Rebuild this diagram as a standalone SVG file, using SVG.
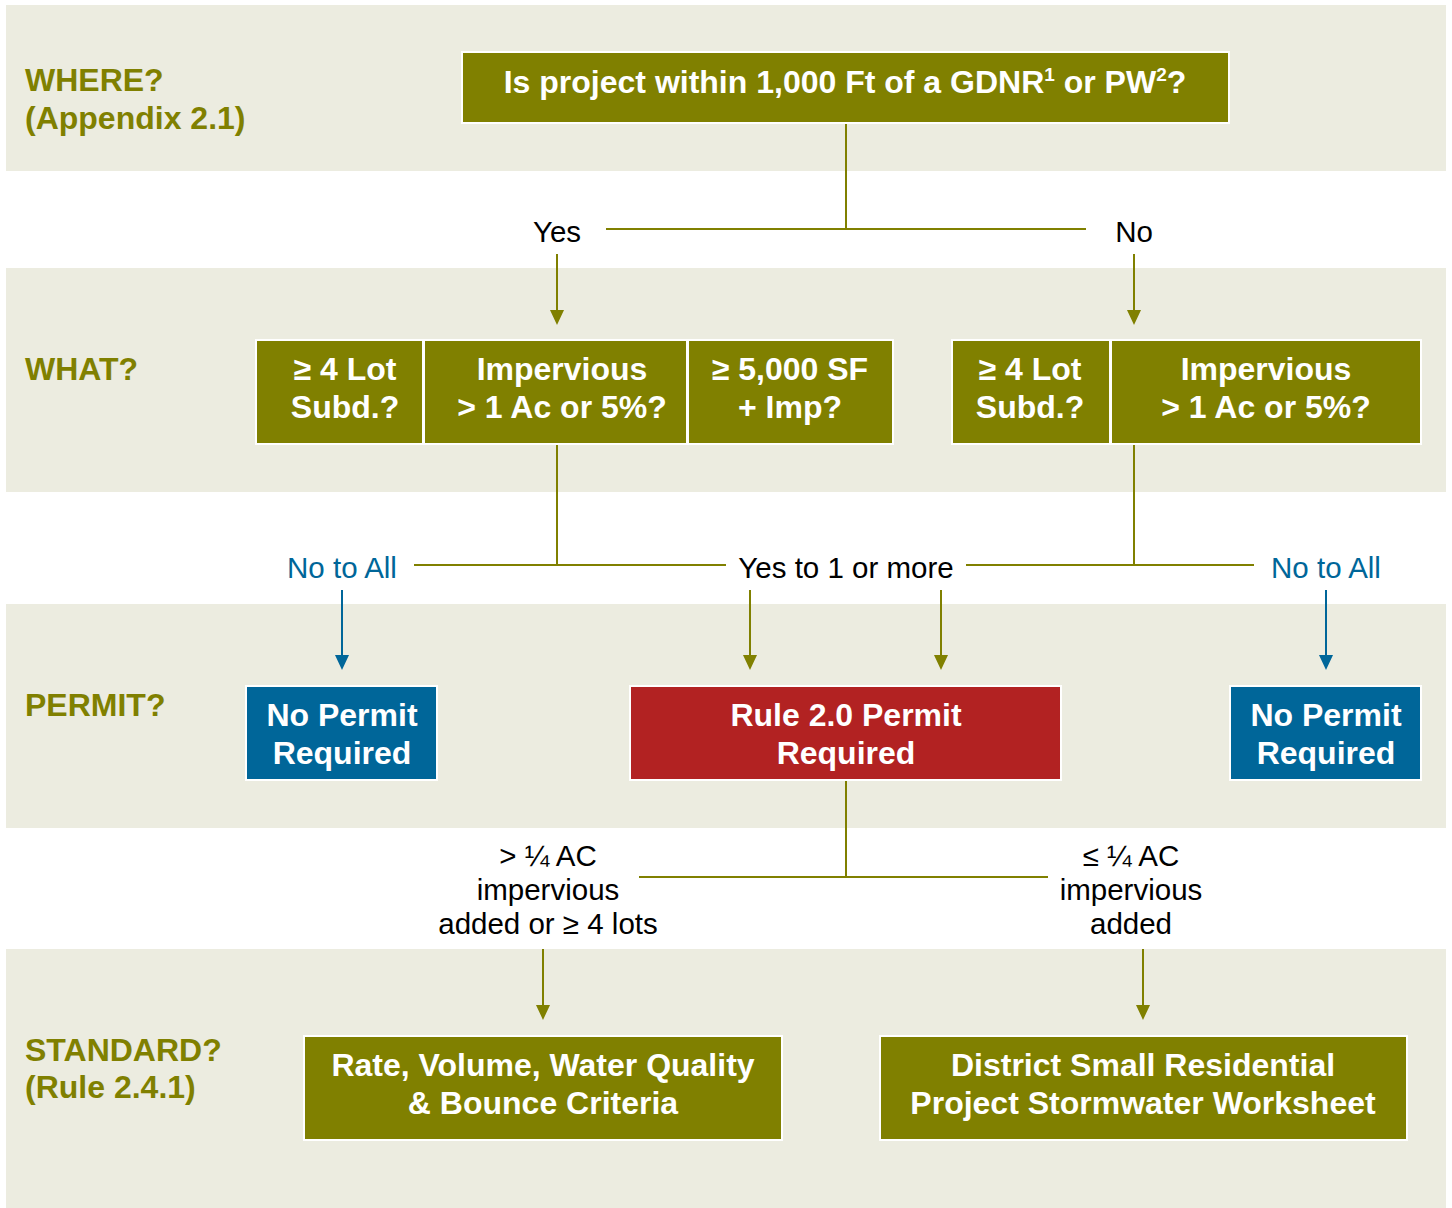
<svg xmlns="http://www.w3.org/2000/svg" width="1452" height="1208" viewBox="0 0 1452 1208">
<style>
.band{fill:#ECECE0}
.hdr{font-family:"Liberation Sans",Arial,sans-serif;font-weight:bold;font-size:32px;fill:#808000}
.box{stroke:#ffffff;stroke-width:2}
.ol{fill:#808000}
.bl{fill:#006699}
.rd{fill:#B22222}
.bt{font-family:"Liberation Sans",Arial,sans-serif;font-weight:bold;font-size:32px;fill:#ffffff;text-anchor:middle}
.lb{font-family:"Liberation Sans",Arial,sans-serif;font-size:29.5px;fill:#000000;text-anchor:middle}
.lbb{font-family:"Liberation Sans",Arial,sans-serif;font-size:29.5px;fill:#006699;text-anchor:middle}
.c{stroke:#808000;stroke-width:2;fill:none}
.cb{stroke:#006699;stroke-width:2;fill:none}
</style>
<rect width="1452" height="1208" fill="#ffffff"/>
<g id="bands">
<rect class="band" x="6" y="5" width="1440" height="166"/>
<rect class="band" x="6" y="268" width="1440" height="224"/>
<rect class="band" x="6" y="604" width="1440" height="224"/>
<rect class="band" x="6" y="949" width="1440" height="259"/>
</g>
<g id="headers">
<text class="hdr" x="25" y="91">WHERE?</text>
<text class="hdr" x="25" y="129">(Appendix 2.1)</text>
<text class="hdr" x="25" y="380">WHAT?</text>
<text class="hdr" x="25" y="716">PERMIT?</text>
<text class="hdr" x="25" y="1061">STANDARD?</text>
<text class="hdr" x="25" y="1098">(Rule 2.4.1)</text>
</g>
<g id="connectors">
<path class="c" d="M846,123 V229 M606,229 H1086 M557,565 V444 M414,565 H726 M1134,444 V565 M966,565 H1254 M846,780 V877 M639,877 H1048"/>
<line class="c" x1="557" y1="254" x2="557" y2="312"/>
<path d="M550,310 L564,310 L557,325 Z" fill="#808000"/>
<line class="c" x1="1134" y1="254" x2="1134" y2="312"/>
<path d="M1127,310 L1141,310 L1134,325 Z" fill="#808000"/>
<line class="cb" x1="342" y1="590" x2="342" y2="657"/>
<path d="M335,655 L349,655 L342,670 Z" fill="#006699"/>
<line class="c" x1="750" y1="590" x2="750" y2="657"/>
<path d="M743,655 L757,655 L750,670 Z" fill="#808000"/>
<line class="c" x1="941" y1="590" x2="941" y2="657"/>
<path d="M934,655 L948,655 L941,670 Z" fill="#808000"/>
<line class="cb" x1="1326" y1="590" x2="1326" y2="657"/>
<path d="M1319,655 L1333,655 L1326,670 Z" fill="#006699"/>
<line class="c" x1="543" y1="949" x2="543" y2="1007"/>
<path d="M536,1005 L550,1005 L543,1020 Z" fill="#808000"/>
<line class="c" x1="1143" y1="949" x2="1143" y2="1007"/>
<path d="M1136,1005 L1150,1005 L1143,1020 Z" fill="#808000"/>
<text class="lb" x="557" y="242">Yes</text>
<text class="lb" x="1134" y="242">No</text>
<text class="lbb" x="342" y="578">No to All</text>
<text class="lb" x="846" y="578">Yes to 1 or more</text>
<text class="lbb" x="1326" y="578">No to All</text>
<text class="lb" x="548" y="866">&gt; ¼ AC</text>
<text class="lb" x="548" y="900">impervious</text>
<text class="lb" x="548" y="934">added or ≥ 4 lots</text>
<text class="lb" x="1131" y="866">≤ ¼ AC</text>
<text class="lb" x="1131" y="900">impervious</text>
<text class="lb" x="1131" y="934">added</text>
</g>
<g id="q-where">
<rect class="box ol" x="462" y="52" width="767" height="71"/>
<text class="bt" x="845" y="93">Is project within 1,000 Ft of a GDNR<tspan font-size="19" dy="-12">1</tspan><tspan dy="12"> or PW</tspan><tspan font-size="19" dy="-12">2</tspan><tspan dy="12">?</tspan></text>
</g>
<g id="q-lot-yes">
<rect class="box ol" x="256" y="340" width="167" height="104"/>
<text class="bt" x="345" y="380">≥ 4 Lot</text>
<text class="bt" x="345" y="418">Subd.?</text>
</g>
<g id="q-imp-yes">
<rect class="box ol" x="424" y="340" width="263" height="104"/>
<text class="bt" x="562" y="380">Impervious</text>
<text class="bt" x="562" y="418">&gt; 1 Ac or 5%?</text>
</g>
<g id="q-sf-yes">
<rect class="box ol" x="688" y="340" width="205" height="104"/>
<text class="bt" x="790" y="380">≥ 5,000 SF</text>
<text class="bt" x="790" y="418">+ Imp?</text>
</g>
<g id="q-lot-no">
<rect class="box ol" x="952" y="340" width="158" height="104"/>
<text class="bt" x="1030" y="380">≥ 4 Lot</text>
<text class="bt" x="1030" y="418">Subd.?</text>
</g>
<g id="q-imp-no">
<rect class="box ol" x="1111" y="340" width="310" height="104"/>
<text class="bt" x="1266" y="380">Impervious</text>
<text class="bt" x="1266" y="418">&gt; 1 Ac or 5%?</text>
</g>
<g id="no-permit-left">
<rect class="box bl" x="246" y="686" width="191" height="94"/>
<text class="bt" x="342" y="726">No Permit</text>
<text class="bt" x="342" y="764">Required</text>
</g>
<g id="permit-required">
<rect class="box rd" x="630" y="686" width="431" height="94"/>
<text class="bt" x="846" y="726">Rule 2.0 Permit</text>
<text class="bt" x="846" y="764">Required</text>
</g>
<g id="no-permit-right">
<rect class="box bl" x="1230" y="686" width="191" height="94"/>
<text class="bt" x="1326" y="726">No Permit</text>
<text class="bt" x="1326" y="764">Required</text>
</g>
<g id="std-full">
<rect class="box ol" x="304" y="1036" width="478" height="104"/>
<text class="bt" x="543" y="1076">Rate, Volume, Water Quality</text>
<text class="bt" x="543" y="1114">&amp; Bounce Criteria</text>
</g>
<g id="std-small">
<rect class="box ol" x="880" y="1036" width="527" height="104"/>
<text class="bt" x="1143" y="1076">District Small Residential</text>
<text class="bt" x="1143" y="1114">Project Stormwater Worksheet</text>
</g>
</svg>
